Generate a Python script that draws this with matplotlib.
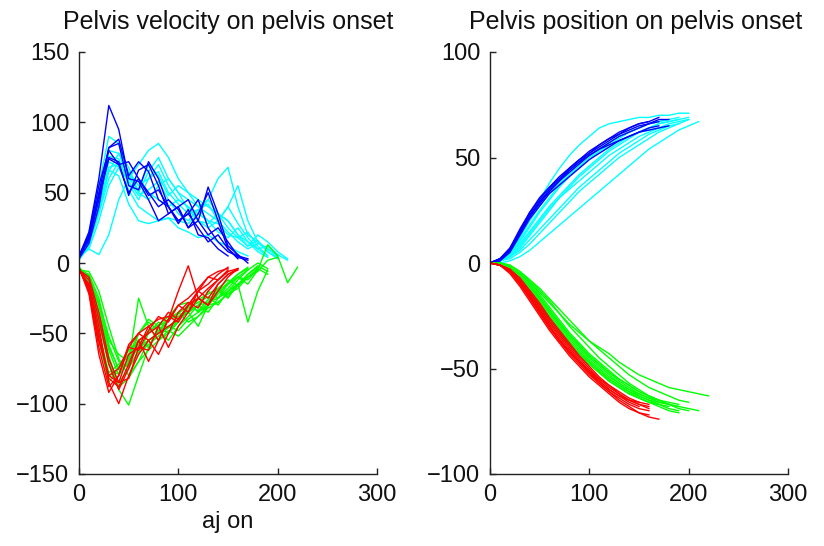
import matplotlib
matplotlib.use("Agg")
import matplotlib.pyplot as plt
import numpy as np

plt.rcParams['font.family'] = ['Liberation Sans Narrow', 'Liberation Sans', 'DejaVu Sans']

STEP = 10  # samples every 10 frames after pelvis onset

# ---- pelvis velocity curves (left panel) ----
vel_blue = [
    [5, 22, 60, 112, 95, 60, 58, 45, 30, 35, 40, 25, 35, 50, 30, 10, 3],
    [4, 18, 50, 82, 88, 62, 72, 65, 45, 40, 30, 35, 25, 15, 20, 10, 4, 2],
    [5, 16, 45, 75, 72, 48, 66, 70, 55, 35, 40, 45, 30, 20, 25, 15, 5],
    [3, 14, 40, 82, 85, 55, 52, 72, 60, 40, 30, 35, 45, 25, 15, 8, 5, 3],
    [5, 20, 55, 80, 70, 50, 60, 50, 40, 45, 38, 25, 30, 54, 35, 12, 6, 0],
    [4, 18, 48, 74, 70, 72, 60, 48, 52, 40, 28, 38, 20, 18, 10, 5],
]
vel_cyan = [
    [3, 22, 55, 90, 85, 62, 50, 65, 75, 60, 50, 45, 40, 35, 30, 40, 55, 30, 15, 8, 3],
    [5, 10, 6, 20, 45, 60, 70, 80, 85, 75, 60, 50, 45, 40, 35, 30, 20, 15, 10, 5],
    [4, 16, 42, 72, 68, 52, 40, 35, 30, 32, 30, 28, 35, 45, 60, 68, 40, 20, 15, 10, 5],
    [2, 12, 35, 60, 72, 65, 55, 60, 70, 55, 45, 40, 35, 30, 28, 20, 18, 12, 20, 15, 8, 3],
    [5, 18, 46, 76, 74, 56, 45, 60, 65, 50, 42, 35, 38, 30, 22, 18, 25, 15, 8, 4],
    [3, 14, 36, 66, 62, 42, 30, 28, 30, 32, 25, 22, 18, 20, 15, 12, 8, 5],
    [4, 20, 50, 80, 78, 60, 52, 70, 62, 48, 55, 50, 40, 45, 35, 25, 18, 22, 12, 5],
    [3, 14, 38, 65, 78, 68, 50, 45, 55, 60, 50, 38, 30, 28, 35, 30, 20, 12, 16, 8, 4],
    [5, 16, 40, 68, 70, 62, 58, 50, 45, 40, 45, 40, 30, 25, 30, 40, 28, 18, 10, 12, 6],
    [4, 10, 30, 55, 68, 58, 48, 52, 58, 45, 35, 30, 38, 42, 30, 22, 15, 10, 14, 10, 6, 2],
]
vel_red = [
    [-5, -15, -45, -85, -100, -80, -65, -55, -50, -45, -40, -30, -25, -18, -12, -6, -4],
    [-4, -18, -55, -80, -85, -65, -60, -62, -45, -35, -40, -30, -20, -15, -8, -3],
    [-5, -12, -40, -72, -90, -75, -55, -70, -55, -40, -30, -35, -20, -10, -6, -4],
    [-3, -22, -65, -92, -80, -60, -50, -45, -55, -40, -20, -2, -25, -30, -15, -8, -5],
    [-5, -16, -50, -82, -88, -72, -55, -50, -45, -60, -45, -35, -25, -30, -20, -10, -4],
    [-4, -20, -60, -88, -80, -58, -50, -55, -65, -50, -35, -28, -32, -20, -12, -5],
    [-5, -10, -35, -68, -85, -82, -60, -45, -40, -38, -42, -30, -20, -25, -15, -8, -4],
    [-4, -18, -55, -80, -75, -60, -62, -48, -38, -42, -30, -25, -18, -10, -12, -6],
]
vel_green = [
    [-4, -10, -40, -70, -90, -101, -80, -60, -45, -50, -40, -35, -30, -20, -25, -15, -10, -5],
    [-5, -8, -25, -55, -65, -70, -25, -45, -55, -50, -40, -35, -45, -30, -20, -15, -10, -15, -5],
    [-3, -10, -30, -60, -75, -65, -55, -50, -45, -40, -38, -35, -30, -28, -25, -20, -15, -10, -5, 13, 5, -14, -3],
    [-5, -12, -35, -62, -80, -70, -60, -55, -50, -45, -48, -40, -35, -30, -28, -22, -15, -42, -20, -5],
    [-4, -18, -50, -78, -72, -65, -50, -42, -48, -55, -45, -38, -30, -35, -25, -18, -10, -12, -4],
    [-5, -6, -20, -45, -68, -80, -70, -55, -50, -40, -35, -42, -38, -30, -20, -25, -15, -8, -2, -6],
    [-3, -14, -42, -72, -85, -75, -62, -58, -52, -46, -40, -30, -25, -30, -22, -15, -8, -3],
    [-5, -10, -30, -58, -76, -72, -50, -40, -45, -50, -42, -32, -28, -24, -30, -20, -12, -5, 0, -4],
    [-4, -16, -48, -80, -78, -68, -58, -48, -44, -38, -30, -28, -35, -28, -18, -12, -16, -8, -3],
    [-5, -12, -38, -66, -88, -82, -70, -62, -55, -48, -52, -45, -38, -32, -28, -22, -18, -10, -6, 2, 4],
    [-3, -20, -55, -85, -74, -62, -56, -60, -48, -40, -36, -30, -34, -26, -20, -14, -8, -4],
    [-4, -9, -28, -52, -70, -74, -64, -50, -42, -46, -38, -34, -26, -22, -18, -24, -16, -10, -4, -8],
]

# ---- pelvis position curves (right panel) ----
pos_blue = [
    [0, 2, 6, 15, 23, 29, 34, 39, 43, 47, 51, 54, 57, 60, 62, 64, 66, 67],
    [0, 2, 7, 16, 24, 31, 36, 41, 45, 49, 52, 55, 58, 61, 63, 65, 66, 68, 68],
    [0, 1, 5, 13, 21, 27, 33, 37, 41, 45, 49, 52, 55, 58, 60, 62, 64, 65],
    [0, 2, 6, 14, 22, 28, 34, 39, 44, 48, 52, 56, 59, 62, 64, 66, 67],
    [0, 1, 6, 14, 22, 29, 35, 40, 44, 48, 51, 54, 56, 58, 60, 62, 63, 64, 65],
    [0, 2, 7, 15, 24, 30, 36, 40, 45, 49, 53, 56, 59, 61, 64, 66, 67, 69],
]
pos_cyan = [
    [0, 2, 6, 14, 22, 30, 38, 45, 51, 56, 60, 64, 66, 67, 68, 69, 69, 70, 70, 71, 71],
    [0, 0, 1, 3, 6, 10, 14, 18, 22, 26, 30, 34, 38, 42, 46, 50, 54, 57, 60, 63, 65, 67],
    [0, 1, 4, 9, 15, 21, 27, 32, 37, 42, 46, 50, 54, 57, 60, 62, 64, 66, 67, 68],
    [0, 1, 3, 7, 13, 19, 25, 31, 36, 41, 45, 49, 53, 56, 59, 62, 64, 66, 67, 68, 69],
    [0, 2, 5, 12, 20, 27, 33, 38, 43, 47, 51, 54, 57, 60, 62, 64, 66, 67, 68],
    [0, 1, 2, 5, 9, 14, 19, 24, 29, 34, 38, 42, 46, 50, 53, 56, 59, 62, 64, 66, 68],
    [0, 1, 4, 10, 17, 24, 30, 36, 41, 45, 49, 53, 56, 59, 62, 64, 66, 67, 68, 69],
    [0, 1, 3, 8, 14, 20, 26, 31, 35, 39, 43, 47, 51, 54, 57, 60, 62, 64, 66, 67, 68],
    [0, 1, 3, 6, 11, 16, 21, 26, 31, 36, 40, 44, 48, 52, 55, 58, 61, 63, 65, 66],
    [0, 2, 5, 11, 18, 25, 31, 37, 42, 46, 50, 53, 56, 58, 60, 62, 63, 64],
]
pos_red = [
    [0, -1, -4, -9, -15, -22, -29, -35, -41, -47, -52, -57, -61, -65, -68, -71, -73, -74],
    [0, -1, -3, -8, -14, -20, -27, -33, -39, -45, -50, -55, -59, -62, -65, -67, -68],
    [0, -1, -5, -11, -18, -25, -32, -38, -44, -49, -54, -58, -62, -66, -69, -71, -72],
    [0, -1, -4, -10, -16, -23, -30, -36, -42, -47, -51, -55, -58, -61, -64, -66, -67],
    [0, -1, -3, -7, -13, -19, -26, -32, -38, -44, -49, -54, -58, -62, -65, -67, -69],
    [0, -1, -4, -9, -16, -23, -30, -37, -43, -48, -53, -57, -61, -64, -67, -69, -70],
    [0, -1, -3, -8, -14, -21, -28, -34, -40, -46, -51, -56, -60, -63, -66, -68],
    [0, -1, -4, -10, -17, -24, -31, -37, -42, -47, -52, -56, -60, -63, -65, -66],
]
pos_green = [
    [0, 0, -2, -5, -9, -14, -19, -24, -29, -33, -37, -40, -43, -47, -50, -53, -55, -57, -59, -60, -61, -62, -63],
    [0, 0, -2, -6, -11, -17, -23, -29, -35, -40, -45, -49, -53, -57, -60, -63, -65, -67, -69, -70],
    [0, -1, -3, -7, -13, -19, -25, -31, -37, -42, -47, -51, -55, -58, -61, -64, -66, -68, -70, -71],
    [0, 0, -2, -5, -10, -16, -22, -28, -34, -39, -44, -48, -52, -56, -59, -62, -64, -66, -67, -68],
    [0, -1, -3, -8, -14, -20, -26, -32, -38, -43, -48, -52, -56, -59, -62, -64, -66, -67, -68],
    [0, 0, -1, -4, -8, -13, -18, -24, -30, -35, -40, -45, -49, -53, -57, -60, -63, -65, -67, -69, -70],
    [0, -1, -3, -7, -12, -18, -24, -30, -36, -41, -46, -50, -54, -57, -60, -62, -64, -65],
    [0, 0, -2, -6, -11, -17, -23, -29, -34, -39, -44, -48, -52, -55, -58, -61, -63, -65, -66, -67],
    [0, -1, -3, -8, -14, -21, -27, -33, -38, -43, -47, -51, -55, -58, -61, -63, -65, -66, -67],
    [0, 0, -2, -5, -9, -15, -21, -27, -33, -38, -43, -47, -51, -55, -58, -61, -63, -65, -67, -68, -69, -70],
    [0, -1, -4, -9, -16, -22, -28, -34, -39, -44, -48, -52, -56, -59, -62, -64, -66, -67],
    [0, 0, -1, -4, -8, -12, -17, -22, -27, -32, -37, -41, -45, -49, -53, -56, -59, -61, -63, -65, -66],
]

W, H = 824, 546
fig = plt.figure(figsize=(W / 100, H / 100), dpi=100)
fig.patch.set_facecolor('white')

ax1 = fig.add_axes([79 / W, (H - 474) / H, 298 / W, 422 / H])
ax2 = fig.add_axes([490 / W, (H - 474) / H, 298 / W, 422 / H])


def draw(ax, groups):
    for curves, col in groups:
        for c in curves:
            ax.plot(np.arange(len(c)) * STEP, c, color=col, lw=1.0)


draw(ax1, [(vel_cyan, '#00ffff'), (vel_blue, '#0000ff'),
           (vel_green, '#00ff00'), (vel_red, '#ff0000')])
draw(ax2, [(pos_cyan, '#00ffff'), (pos_blue, '#0000ff'),
           (pos_green, '#00ff00'), (pos_red, '#ff0000')])

for ax, ylim, yt in [(ax1, (-150, 150), [-150, -100, -50, 0, 50, 100, 150]),
                     (ax2, (-100, 100), [-100, -50, 0, 50, 100])]:
    ax.set_xlim(0, 300)
    ax.set_ylim(*ylim)
    ax.set_xticks([0, 100, 200, 300])
    ax.set_yticks(yt)
    for s in ['top', 'right']:
        ax.spines[s].set_visible(False)
    for s in ['left', 'bottom']:
        ax.spines[s].set_linewidth(1.0)
        ax.spines[s].set_color('#222222')
    ax.tick_params(direction='in', length=4, width=1.0, color='#222222',
                   labelsize=17, pad=7, labelcolor='#111111')

ax1.set_xlabel('aj on', fontsize=17, labelpad=4, color='#111111')

fig.text(228 / W, 1 - 22 / H, 'Pelvis velocity on pelvis onset',
         ha='center', va='center', fontsize=18, color='#111111')
fig.text(636 / W, 1 - 22 / H, 'Pelvis position on pelvis onset',
         ha='center', va='center', fontsize=18, color='#111111')

fig.savefig('out.png', dpi=100, facecolor='white')
